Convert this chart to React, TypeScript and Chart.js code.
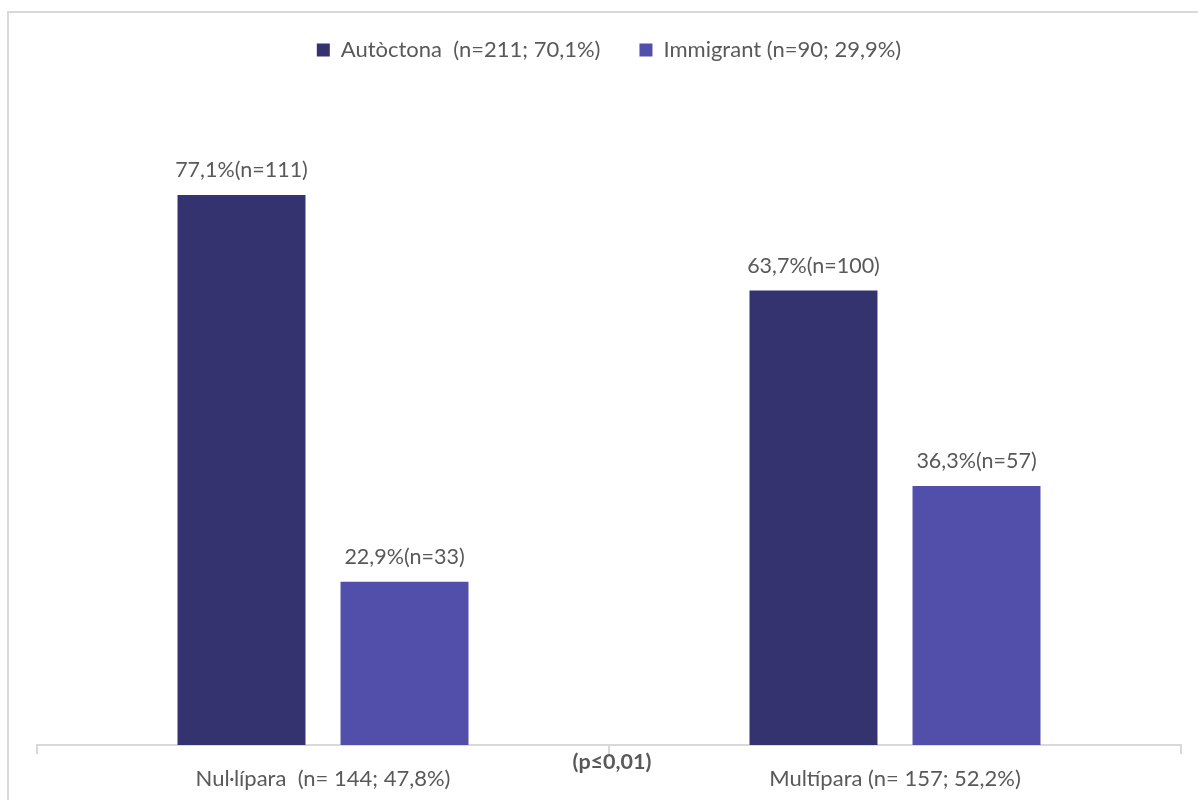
import React, { useEffect, useRef } from "react";
import { Chart, registerables } from "chart.js";

Chart.register(...registerables);

const categories = ["Nul·lípara  (n= 144; 47,8%)", "Multípara (n= 157; 52,2%)"];
const seriesNames = ["Autòctona  (n=211; 70,1%)", "Immigrant (n=90; 29,9%)"];
const autoctonaValues = [77.1, 63.7];
const immigrantValues = [22.9, 36.3];
const autoctonaCounts = [111, 100];
const immigrantCounts = [33, 57];
const pValueText = "(p≤0,01)";

const FONT = "Lato, 'Open Sans', sans-serif";
const TEXT = "#595959";

function fmt(v: number): string {
  return v.toFixed(1).replace(".", ",");
}

const labelPlugin = {
  id: "barLabels",
  afterDatasetsDraw(chart: any) {
    const ctx = chart.ctx;
    const counts = [autoctonaCounts, immigrantCounts];
    ctx.save();
    ctx.font = `21.5px ${FONT}`;
    ctx.fillStyle = TEXT;
    ctx.textAlign = "center";
    ctx.textBaseline = "middle";
    chart.data.datasets.forEach((ds: any, di: number) => {
      const meta = chart.getDatasetMeta(di);
      meta.data.forEach((bar: any, i: number) => {
        const txt = `${fmt(ds.data[i])}%(n=${counts[di][i]})`;
        ctx.fillText(txt, bar.x, bar.y - 25);
      });
    });
    const area = chart.chartArea;
    ctx.font = `bold 21.5px ${FONT}`;
    ctx.fillText(pValueText, (area.left + area.right) / 2 + 3, 762);
    ctx.restore();
  },
};

const legendFitPlugin = {
  id: "legendFit",
  beforeInit(chart: any) {
    const orig = chart.legend.fit;
    chart.legend.fit = function () {
      orig.call(this);
      this.height = 103;
    };
  },
};

export default function App() {
  const ref = useRef<HTMLCanvasElement | null>(null);
  useEffect(() => {
    if (!ref.current) return;
    const chart = new Chart(ref.current, {
      type: "bar",
      data: {
        labels: categories,
        datasets: [
          {
            label: seriesNames[0],
            data: autoctonaValues,
            backgroundColor: "#35336F",
            categoryPercentage: 0.57,
            barPercentage: 0.785,
          },
          {
            label: seriesNames[1],
            data: immigrantValues,
            backgroundColor: "#524FAB",
            categoryPercentage: 0.57,
            barPercentage: 0.785,
          },
        ],
      },
      options: {
        responsive: false,
        animation: false,
        layout: { padding: { left: 37, right: 17, top: 0, bottom: 0 } },
        plugins: {
          legend: {
            position: "top",
            labels: {
              boxWidth: 13,
              boxHeight: 13,
              padding: 39,
              color: TEXT,
              font: { family: FONT, size: 22 },
            },
          },
          tooltip: { enabled: false },
        },
        scales: {
          x: {
            grid: {
              offset: true,
              drawOnChartArea: false,
              drawTicks: true,
              tickLength: 9,
              color: "#d9d9d9",
              lineWidth: 2,
            },
            border: { display: true, color: "#d9d9d9", width: 2 },
            ticks: {
              color: TEXT,
              font: { family: FONT, size: 22 },
              padding: 12,
              maxRotation: 0,
            },
            afterFit(scale: any) {
              scale.height = 55;
            },
          },
          y: {
            display: false,
            min: 0,
            max: 90,
          },
        },
      },
      plugins: [labelPlugin, legendFitPlugin],
    } as any);
    return () => chart.destroy();
  }, []);

  return (
    <div style={{ position: "absolute", left: 0, top: 0, width: 1198, height: 800, overflow: "hidden", background: "#fff" }}>
      <div
        style={{
          position: "absolute",
          left: 7,
          top: 11,
          width: 1400,
          height: 1000,
          border: "2px solid #d9d9d9",
        }}
      />
      <canvas ref={ref} width={1198} height={800} style={{ position: "absolute", left: 0, top: 0 }} />
    </div>
  );
}
